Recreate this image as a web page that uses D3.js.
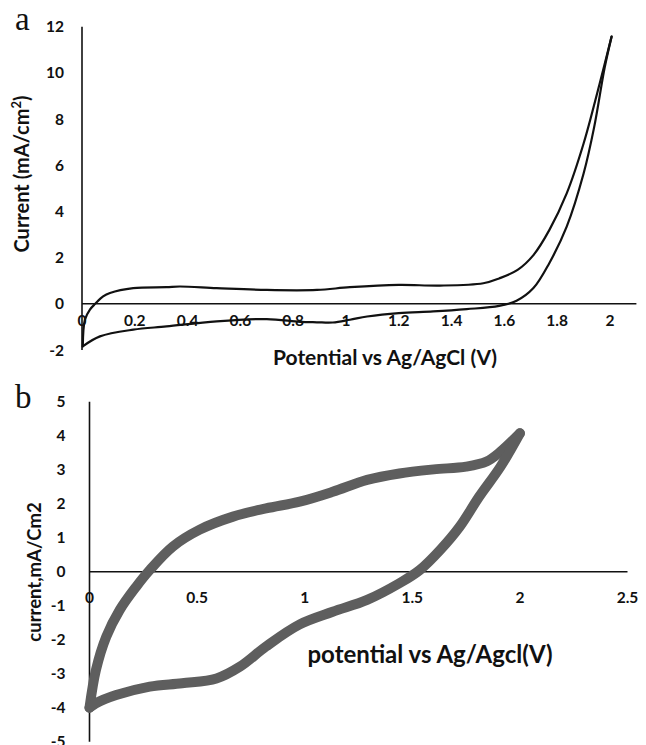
<!DOCTYPE html>
<html lang="en">
<head>
    <meta charset="UTF-8">
    <title>Cyclic voltammograms</title>
    <script src="https://cdn.jsdelivr.net/npm/d3@7"></script>
    <style>
        body {
            margin: 0;
            padding: 0;
            background: #fff;
        }

        .tick-label {
            font-family: Lato, "Open Sans", sans-serif;
            font-weight: bold;
            font-size: 15.5px;
            fill: #111;
        }

        .axis-title {
            font-family: Lato, "Open Sans", sans-serif;
            font-weight: bold;
            fill: #111;
        }

        .panel-letter {
            font-family: "Liberation Serif", serif;
            font-size: 33px;
            fill: #111;
        }
    </style>
</head>
<body>
<svg id="chart" width="646" height="745"></svg>

<script>
    // panel a: forward and reverse sweep
    var topForwardV = [0.003, 0.011, 0.03, 0.05, 0.08, 0.106, 0.194, 0.32, 0.37, 0.51, 0.70, 0.89, 1.015, 1.2, 1.356, 1.52, 1.58, 1.65, 1.71, 1.77, 1.836, 1.9, 1.96, 2.006];
    var topForwardI = [-1.84, -0.69, -0.25, 0, 0.32, 0.47, 0.68, 0.72, 0.75, 0.68, 0.6, 0.6, 0.72, 0.82, 0.79, 0.89, 1.1, 1.47, 2.11, 3.19, 4.78, 6.94, 9.5, 11.57];
    var topReverseV = [2.006, 1.98, 1.94, 1.9, 1.836, 1.77, 1.71, 1.646, 1.58, 1.457, 1.33, 1.2, 1.08, 1.015, 0.95, 0.89, 0.826, 0.70, 0.51, 0.32, 0.194, 0.068, 0.003];
    var topReverseI = [11.57, 10.24, 7.65, 5.64, 3.34, 1.76, 0.68, 0.13, -0.09, -0.23, -0.33, -0.4, -0.55, -0.69, -0.81, -0.8, -0.78, -0.66, -0.76, -0.98, -1.12, -1.41, -1.84];

    // panel b: forward and reverse sweep
    var botForwardV = [0, 0.03, 0.078, 0.14, 0.217, 0.28, 0.387, 0.51, 0.667, 0.82, 0.977, 1.13, 1.29, 1.44, 1.6, 1.75, 1.845, 1.91, 2.0];
    var botForwardI = [-4, -2.89, -1.91, -1.13, -0.44, 0.05, 0.74, 1.23, 1.62, 1.86, 2.06, 2.35, 2.7, 2.89, 3.01, 3.09, 3.24, 3.53, 4.07];
    var botReverseV = [2.0, 1.91, 1.81, 1.72, 1.63, 1.535, 1.44, 1.29, 1.13, 0.977, 0.82, 0.70, 0.59, 0.43, 0.28, 0.124, 0.03, 0];
    var botReverseI = [4.07, 3.09, 2.2, 1.32, 0.64, 0.05, -0.34, -0.83, -1.18, -1.55, -2.2, -2.79, -3.14, -3.28, -3.38, -3.63, -3.87, -4];

    // tick labels
    var topXTicks = [0, 0.2, 0.4, 0.6, 0.8, 1, 1.2, 1.4, 1.6, 1.8, 2];
    var topYTicks = [-2, 0, 2, 4, 6, 8, 10, 12];
    var botXTicks = [0, 0.5, 1, 1.5, 2, 2.5];
    var botYTicks = [-5, -4, -3, -2, -1, 0, 1, 2, 3, 4, 5];

    var svg = d3.select("#chart");

    function zip(vs, is) {
        return vs.map(function(v, i) { return [v, is[i]]; });
    }

    function drawPanel(opt) {
        var x = d3.scaleLinear().domain(opt.xDomain).range(opt.xRange);
        var y = d3.scaleLinear().domain(opt.yDomain).range(opt.yRange);
        var g = svg.append("g");

        // vertical axis line
        g.append("line")
            .attr("x1", x(0)).attr("x2", x(0))
            .attr("y1", y(opt.yDomain[0])).attr("y2", y(opt.yDomain[1]))
            .attr("stroke", "#111").attr("stroke-width", 1.6);

        // horizontal axis at zero
        g.append("line")
            .attr("x1", x(0)).attr("x2", x(opt.xDomain[1]))
            .attr("y1", y(0)).attr("y2", y(0))
            .attr("stroke", "#111").attr("stroke-width", 1.4);

        // y tick labels
        g.selectAll(".ytick")
            .data(opt.yTicks)
            .enter().append("text")
            .attr("class", "tick-label")
            .attr("x", x(0) - opt.yLabelGap)
            .attr("y", function(d) { return y(d); })
            .attr("dy", "0.36em")
            .attr("text-anchor", "end")
            .text(function(d) { return d; });

        var line = d3.line()
            .x(function(d) { return x(d[0]); })
            .y(function(d) { return y(d[1]); })
            .curve(d3.curveCatmullRom.alpha(0.5));

        opt.branches.forEach(function(b) {
            g.append("path")
                .attr("d", line(b))
                .attr("fill", "none")
                .attr("stroke", opt.color)
                .attr("stroke-width", opt.width)
                .attr("stroke-linecap", "round")
                .attr("stroke-linejoin", "round");
        });

        // x tick labels sit under the zero line, drawn over the curve
        g.selectAll(".xtick")
            .data(opt.xTicks)
            .enter().append("text")
            .attr("class", "tick-label")
            .attr("x", function(d) { return x(d); })
            .attr("y", y(0) + opt.xLabelGap)
            .attr("text-anchor", "middle")
            .text(function(d) { return d; });

        return { x: x, y: y };
    }

    drawPanel({
        xDomain: [0, 2.1], xRange: [82, 636.4],
        yDomain: [-2, 12], yRange: [350, 26.7],
        xTicks: topXTicks, yTicks: topYTicks,
        yLabelGap: 18, xLabelGap: 22,
        color: "#111", width: 2.2,
        branches: [zip(topForwardV, topForwardI), zip(topReverseV, topReverseI)]
    });

    drawPanel({
        xDomain: [0, 2.5], xRange: [89.5, 627.5],
        yDomain: [-5, 5], yRange: [741.7, 401.7],
        xTicks: botXTicks, yTicks: botYTicks,
        yLabelGap: 24, xLabelGap: 31,
        color: "#5e5e5e", width: 10,
        branches: [zip(botForwardV, botForwardI), zip(botReverseV, botReverseI)]
    });

    // axis titles
    svg.append("text").attr("class", "axis-title")
        .style("font-size", "21px")
        .attr("x", 385).attr("y", 365)
        .attr("text-anchor", "middle")
        .text("Potential vs Ag/AgCl (V)");

    var yt = svg.append("text").attr("class", "axis-title")
        .style("font-size", "20px")
        .attr("transform", "translate(29,174) rotate(-90)")
        .attr("text-anchor", "middle");
    yt.append("tspan").text("Current (mA/cm");
    yt.append("tspan").attr("dy", -8).style("font-size", "13px").text("2");
    yt.append("tspan").attr("dy", 8).text(")");

    svg.append("text").attr("class", "axis-title")
        .style("font-size", "24px")
        .attr("x", 430).attr("y", 663)
        .attr("text-anchor", "middle")
        .text("potential vs Ag/Agcl(V)");

    svg.append("text").attr("class", "axis-title")
        .style("font-size", "18.5px")
        .attr("transform", "translate(41,572) rotate(-90)")
        .attr("text-anchor", "middle")
        .text("current,mA/Cm2");

    // panel letters
    svg.append("text").attr("class", "panel-letter").attr("x", 15).attr("y", 30).text("a");
    svg.append("text").attr("class", "panel-letter").attr("x", 15).attr("y", 408).text("b");
</script>
</body>
</html>
